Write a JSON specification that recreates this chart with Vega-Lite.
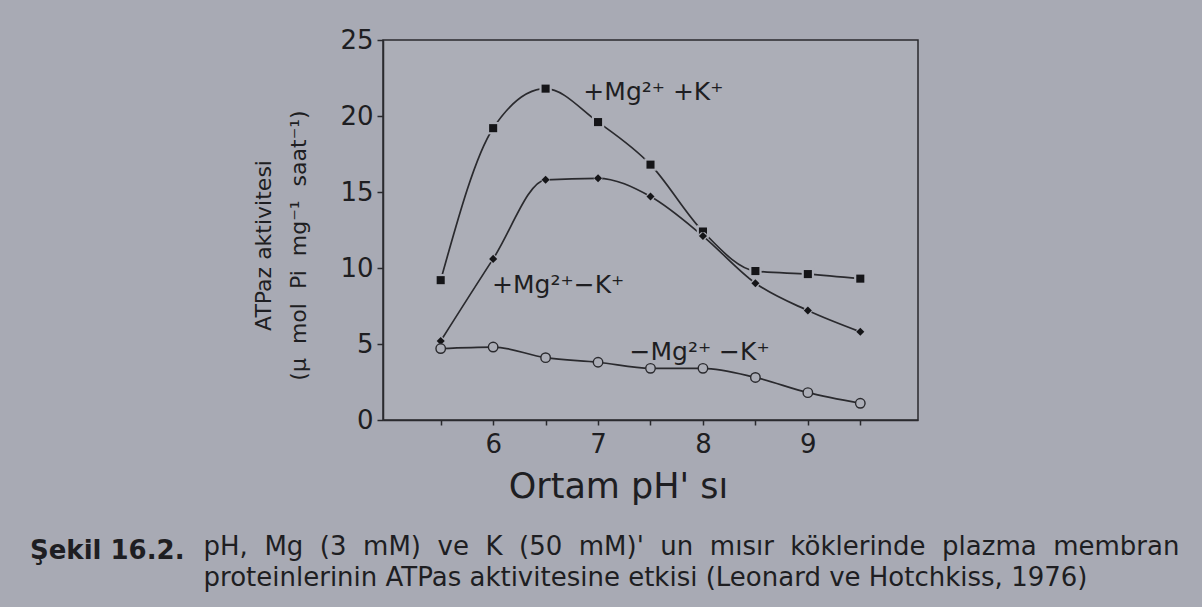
{
  "$schema": "https://vega.github.io/schema/vega-lite/v6.json",
  "autosize": {"type": "none"},
  "width": 535,
  "height": 380,
  "padding": {"left": 383, "top": 40, "right": 284, "bottom": 187},
  "background": "#a8aab4",
  "config": {
    "font": "DejaVu Sans",
    "view": {"stroke": "#2a2a2e", "strokeWidth": 1.5, "fill": "#acaeb7"},
    "axis": {"domainColor": "#2a2a2e", "tickColor": "#2a2a2e", "labelColor": "#1e1e22", "titleColor": "#1e1e22", "grid": false, "labelFont": "DejaVu Sans", "titleFont": "DejaVu Sans", "titleFontWeight": "normal"}
  },
  "title": {
    "text": "Şekil 16.2.",
    "subtitle": ["\u200b\u00a0\u00a0\u00a0\u00a0\u00a0\u00a0\u00a0\u00a0\u00a0\u00a0\u00a0\u00a0\u00a0\u00a0\u00a0\u00a0\u00a0\u00a0\u00a0\u00a0\u00a0pH,\u00a0 Mg\u00a0 (3\u00a0 mM)\u00a0 ve\u00a0 K\u00a0 (50\u00a0 mM)'\u00a0 un\u00a0 mısır\u00a0 köklerinde\u00a0 plazma\u00a0 membran", "\u200b\u00a0\u00a0\u00a0\u00a0\u00a0\u00a0\u00a0\u00a0\u00a0\u00a0\u00a0\u00a0\u00a0\u00a0\u00a0\u00a0\u00a0\u00a0\u00a0\u00a0\u00a0proteinlerinin ATPas aktivitesine etkisi (Leonard ve Hotchkiss, 1976)"],
    "orient": "bottom",
    "anchor": "start",
    "frame": "group",
    "dx": -353,
    "offset": 34,
    "fontSize": 26,
    "fontWeight": "bold",
    "lineHeight": 30,
    "color": "#1e1e22",
    "font": "DejaVu Sans",
    "subtitleFont": "DejaVu Sans",
    "subtitleFontSize": 26,
    "subtitleFontWeight": "normal",
    "subtitleColor": "#1e1e22",
    "subtitleLineHeight": 31,
    "subtitlePadding": -30,
    "baseline": "top"
  },
  "datasets": {
    "pts": [
      {"pH": 5.5, "v": 9.2, "s": "+Mg+K"},
      {"pH": 6.0, "v": 19.2, "s": "+Mg+K"},
      {"pH": 6.5, "v": 21.8, "s": "+Mg+K"},
      {"pH": 7.0, "v": 19.6, "s": "+Mg+K"},
      {"pH": 7.5, "v": 16.8, "s": "+Mg+K"},
      {"pH": 8.0, "v": 12.4, "s": "+Mg+K"},
      {"pH": 8.5, "v": 9.8, "s": "+Mg+K"},
      {"pH": 9.0, "v": 9.6, "s": "+Mg+K"},
      {"pH": 9.5, "v": 9.3, "s": "+Mg+K"},
      {"pH": 5.5, "v": 5.2, "s": "+Mg-K"},
      {"pH": 6.0, "v": 10.6, "s": "+Mg-K"},
      {"pH": 6.5, "v": 15.8, "s": "+Mg-K"},
      {"pH": 7.0, "v": 15.9, "s": "+Mg-K"},
      {"pH": 7.5, "v": 14.7, "s": "+Mg-K"},
      {"pH": 8.0, "v": 12.1, "s": "+Mg-K"},
      {"pH": 8.5, "v": 9.0, "s": "+Mg-K"},
      {"pH": 9.0, "v": 7.2, "s": "+Mg-K"},
      {"pH": 9.5, "v": 5.8, "s": "+Mg-K"},
      {"pH": 5.5, "v": 4.7, "s": "-Mg-K"},
      {"pH": 6.0, "v": 4.8, "s": "-Mg-K"},
      {"pH": 6.5, "v": 4.1, "s": "-Mg-K"},
      {"pH": 7.0, "v": 3.8, "s": "-Mg-K"},
      {"pH": 7.5, "v": 3.4, "s": "-Mg-K"},
      {"pH": 8.0, "v": 3.4, "s": "-Mg-K"},
      {"pH": 8.5, "v": 2.8, "s": "-Mg-K"},
      {"pH": 9.0, "v": 1.8, "s": "-Mg-K"},
      {"pH": 9.5, "v": 1.1, "s": "-Mg-K"}
    ],
    "labels": [
      {"pH": 6.86, "v": 21.6, "t": "+Mg²⁺\u00a0+K⁺"},
      {"pH": 5.99, "v": 8.9, "t": "+Mg²⁺−K⁺"},
      {"pH": 7.3, "v": 4.5, "t": "−Mg²⁺\u00a0−K⁺"}
    ]
  },
  "layer": [
    {
      "data": {"name": "pts"},
      "mark": {"type": "line", "interpolate": "monotone", "color": "#2a2a2e", "strokeWidth": 1.7},
      "encoding": {
        "x": {"field": "pH", "type": "quantitative", "scale": {"domain": [4.95, 10.05], "nice": false, "zero": false},
          "axis": {"values": [5.5, 6, 6.5, 7, 7.5, 8, 8.5, 9, 9.5], "labelExpr": "datum.value % 1 === 0 ? format(datum.value, 'd') : ''", "labelFontSize": 26, "labelPadding": 6, "tickSize": 5, "tickWidth": 1.5, "domainWidth": 1.5, "title": "Ortam pH' sı", "titleFontSize": 35, "titleX": 235, "titleY": 77, "titleAlign": "center", "titleBaseline": "alphabetic"}},
        "y": {"field": "v", "type": "quantitative", "scale": {"domain": [0, 25], "nice": false},
          "axis": {"values": [0, 5, 10, 15, 20, 25], "labelFontSize": 26, "labelPadding": 4, "tickSize": 6, "tickWidth": 1.5, "domainWidth": 1.5, "title": ["ATPaz aktivitesi", "(µ\u00a0 mol\u00a0 Pi\u00a0 mg⁻¹\u00a0 saat⁻¹)"], "titleFontSize": 22, "titleLineHeight": 35, "titleX": -120, "titleY": 205, "titleAngle": -90, "titleAlign": "center", "titleBaseline": "middle"}},
        "detail": {"field": "s"}
      }
    },
    {
      "data": {"name": "pts"},
      "transform": [{"filter": "datum.s === '+Mg+K'"}],
      "mark": {"type": "point", "shape": "square", "filled": true, "size": 70, "color": "#151518", "stroke": "#acaeb7", "strokeWidth": 4, "strokeOpacity": 1, "opacity": 1},
      "encoding": {"x": {"field": "pH", "type": "quantitative"}, "y": {"field": "v", "type": "quantitative"}}
    },
    {
      "data": {"name": "pts"},
      "transform": [{"filter": "datum.s === '+Mg+K'"}],
      "mark": {"type": "point", "shape": "square", "filled": true, "size": 65, "color": "#151518", "opacity": 1},
      "encoding": {"x": {"field": "pH", "type": "quantitative"}, "y": {"field": "v", "type": "quantitative"}}
    },
    {
      "data": {"name": "pts"},
      "transform": [{"filter": "datum.s === '+Mg-K'"}],
      "mark": {"type": "point", "shape": "circle", "filled": true, "size": 70, "color": "#acaeb7", "opacity": 1},
      "encoding": {"x": {"field": "pH", "type": "quantitative"}, "y": {"field": "v", "type": "quantitative"}}
    },
    {
      "data": {"name": "pts"},
      "transform": [{"filter": "datum.s === '+Mg-K'"}],
      "mark": {"type": "point", "shape": "diamond", "filled": true, "size": 65, "color": "#151518", "opacity": 1},
      "encoding": {"x": {"field": "pH", "type": "quantitative"}, "y": {"field": "v", "type": "quantitative"}}
    },
    {
      "data": {"name": "pts"},
      "transform": [{"filter": "datum.s === '-Mg-K'"}],
      "mark": {"type": "point", "shape": "circle", "filled": true, "size": 90, "color": "#acaeb7", "stroke": "#2a2a2e", "strokeWidth": 1.4, "opacity": 1},
      "encoding": {"x": {"field": "pH", "type": "quantitative"}, "y": {"field": "v", "type": "quantitative"}}
    },
    {
      "data": {"name": "labels"},
      "mark": {"type": "text", "align": "left", "baseline": "middle", "fontSize": 25, "color": "#1e1e22", "font": "DejaVu Sans"},
      "encoding": {"x": {"field": "pH", "type": "quantitative"}, "y": {"field": "v", "type": "quantitative"}, "text": {"field": "t"}}
    }
  ]
}
